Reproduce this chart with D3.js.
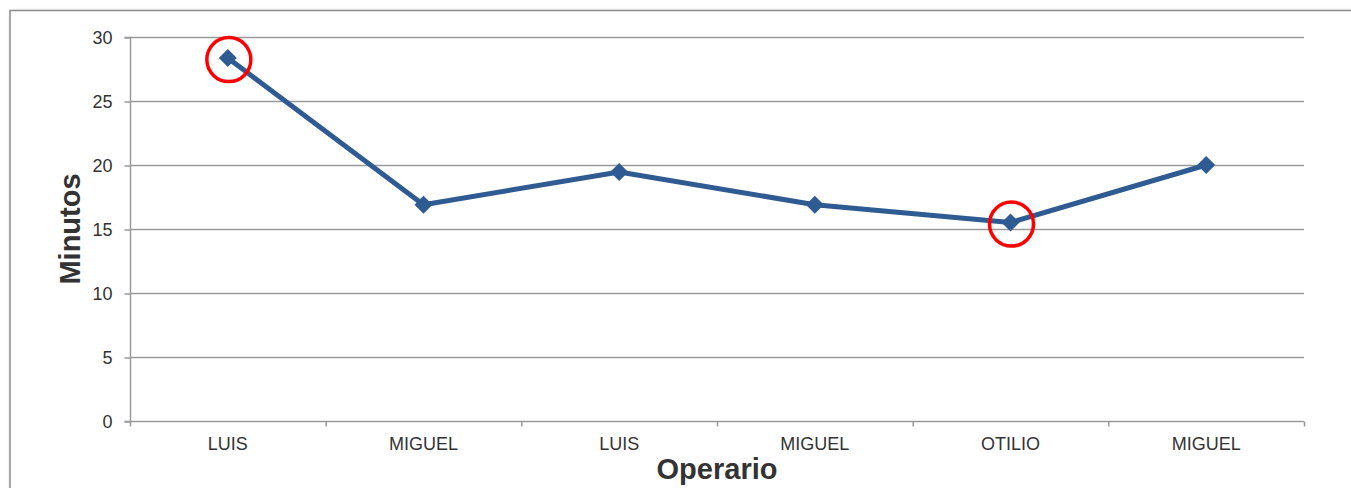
<!DOCTYPE html>
<html>
<head>
<meta charset="utf-8">
<script src="https://cdn.jsdelivr.net/npm/d3@7"></script>
<style>
  html, body { margin: 0; padding: 0; background: #fff; }
  svg { display: block; font-family: "Liberation Sans", Arial, sans-serif; }
</style>
</head>
<body>
<svg id="chart" width="1351" height="488"></svg>
<script>
// Tiempo por operario (minutos)
const operarios = ["LUIS", "MIGUEL", "LUIS", "MIGUEL", "OTILIO", "MIGUEL"];
const minutos = [28.35, 16.9, 19.45, 16.9, 15.5, 20.0];
const yTicks = [0, 5, 10, 15, 20, 25, 30];
// Indices of the points highlighted with a red ring
const destacados = [0, 4];

const svg = d3.select("#chart");
const margin = { left: 130, right: 47, top: 37, bottom: 67 };
const W = 1351, H = 488;
const x0 = margin.left, x1 = W - margin.right;
const y0 = H - margin.bottom, y1 = margin.top;

// Frame with soft shadow
const defs = svg.append("defs");
const f = defs.append("filter").attr("id", "sh").attr("x", "-5%").attr("y", "-5%").attr("width", "110%").attr("height", "110%");
f.append("feGaussianBlur").attr("in", "SourceAlpha").attr("stdDeviation", 2);
f.append("feOffset").attr("dx", 2).attr("dy", 2).attr("result", "b");
f.append("feComponentTransfer").append("feFuncA").attr("type", "linear").attr("slope", 0.35);
const m = f.append("feMerge");
m.append("feMergeNode");
m.append("feMergeNode").attr("in", "SourceGraphic");

svg.append("rect")
  .attr("x", 10).attr("y", 10.5).attr("width", 1400).attr("height", 520)
  .attr("fill", "#fff").attr("stroke", "#8c8c8c").attr("stroke-width", 1.5)
  .attr("filter", "url(#sh)");

const x = d3.scaleBand().domain(d3.range(operarios.length)).range([x0, x1]);
const y = d3.scaleLinear().domain([0, 30]).range([y0, y1]);

// Horizontal gridlines
svg.append("g").selectAll("line").data(yTicks.filter(d => d > 0)).join("line")
  .attr("x1", x0).attr("x2", x1)
  .attr("y1", d => Math.round(y(d)) + 0.5).attr("y2", d => Math.round(y(d)) + 0.5)
  .attr("stroke", "#9a9a9a").attr("stroke-width", 1.5);

// Y axis
const yAxis = svg.append("g").attr("transform", `translate(${x0 + 0.5},0.5)`)
  .call(d3.axisLeft(y).tickValues(yTicks).tickSize(6).tickPadding(12));
yAxis.select(".domain").attr("stroke", "#9a9a9a").attr("stroke-width", 1.5).attr("d", `M-6,${y1}H0V${y0}H-6`);
yAxis.selectAll(".tick line").attr("stroke", "#9a9a9a").attr("stroke-width", 1.5);
yAxis.selectAll(".tick text").attr("fill", "#333").style("font-size", "18px");

// X axis with category boundary ticks
const xg = svg.append("g").attr("transform", `translate(0,${y0 + 0.5})`);
xg.append("line").attr("x1", x0).attr("x2", x1).attr("stroke", "#9a9a9a").attr("stroke-width", 1.5);
xg.selectAll(".bt").data(d3.range(operarios.length + 1)).join("line")
  .attr("class", "bt")
  .attr("x1", i => (i < operarios.length ? x(i) : x1) + 0.5)
  .attr("x2", i => (i < operarios.length ? x(i) : x1) + 0.5)
  .attr("y1", 0).attr("y2", 5)
  .attr("stroke", "#9a9a9a").attr("stroke-width", 1.5);
xg.selectAll("text").data(operarios).join("text")
  .attr("x", (d, i) => x(i) + x.bandwidth() / 2)
  .attr("y", 28.5)
  .attr("text-anchor", "middle")
  .attr("fill", "#333").style("font-size", "18px")
  .text(d => d);

// Axis titles
svg.append("text")
  .attr("transform", `translate(80,${(y0 + y1) / 2}) rotate(-90)`)
  .attr("text-anchor", "middle")
  .attr("fill", "#333").style("font-size", "29px").style("font-weight", "bold")
  .text("Minutos");
svg.append("text")
  .attr("x", (x0 + x1) / 2).attr("y", 479)
  .attr("text-anchor", "middle")
  .attr("fill", "#333").style("font-size", "29px").style("font-weight", "bold")
  .text("Operario");

// Series line
const cx = i => x(i) + x.bandwidth() / 2;
svg.append("path")
  .datum(minutos)
  .attr("fill", "none").attr("stroke", "#2f5b93").attr("stroke-width", 5)
  .attr("stroke-linejoin", "round")
  .attr("d", d3.line().x((d, i) => cx(i)).y(d => y(d)));

// Diamond markers
svg.append("g").selectAll("path").data(minutos).join("path")
  .attr("transform", (d, i) => `translate(${cx(i)},${y(d)})`)
  .attr("d", "M0,-9L9,0L0,9L-9,0Z")
  .attr("fill", "#2f5b93");

// Highlight rings
svg.append("g").selectAll("circle").data(destacados).join("circle")
  .attr("cx", i => cx(i) + 1).attr("cy", i => y(minutos[i]) + 1.5)
  .attr("r", 22)
  .attr("fill", "none").attr("stroke", "#ff0000").attr("stroke-width", 3.5);
</script>
</body>
</html>
